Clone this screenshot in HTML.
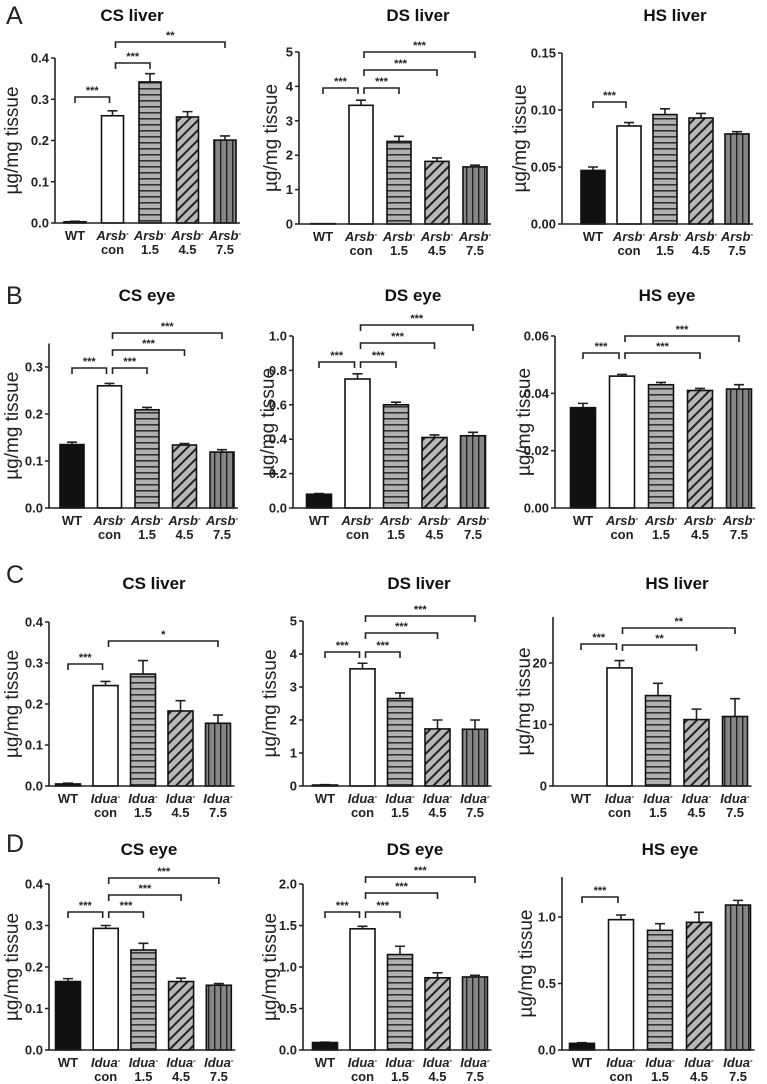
<!DOCTYPE html>
<html><head><meta charset="utf-8">
<style>
html,body{margin:0;padding:0;background:#fff;}
svg{display:block;font-family:"Liberation Sans",Arial,sans-serif;}
</style></head>
<body>
<svg id="fig" width="767" height="1084" viewBox="0 0 767 1084" xmlns="http://www.w3.org/2000/svg">
<defs>
<pattern id="ph" width="6" height="6" patternUnits="userSpaceOnUse"><rect width="6" height="6" fill="#b0b0b0"/><rect y="4" width="6" height="1.6" fill="#333"/></pattern>
<pattern id="pd" width="7" height="7" patternUnits="userSpaceOnUse" patternTransform="rotate(45)"><rect width="7" height="7" fill="#b8b8b8"/><rect x="0" width="2" height="7" fill="#222"/></pattern>
<pattern id="pv" width="6" height="6" patternUnits="userSpaceOnUse"><rect width="6" height="6" fill="#858585"/><rect x="4" width="1.4" height="6" fill="#222"/></pattern>
</defs>
</svg>
<script>
// ---- data ----
const groupsTop = ["WT", "con", "1.5", "4.5", "7.5"];
const valsA_CS = [0.003, 0.260, 0.342, 0.257, 0.201];
const errsA_CS = [0.001, 0.012, 0.020, 0.013, 0.010];
const valsA_DS = [0.01, 3.45, 2.40, 1.82, 1.66];
const errsA_DS = [0.0, 0.15, 0.15, 0.10, 0.05];
const valsA_HS = [0.047, 0.086, 0.096, 0.093, 0.079];
const errsA_HS = [0.003, 0.003, 0.005, 0.004, 0.002];
const valsB_CS = [0.135, 0.260, 0.209, 0.134, 0.119];
const errsB_CS = [0.005, 0.005, 0.005, 0.003, 0.005];
const valsB_DS = [0.08, 0.75, 0.60, 0.41, 0.42];
const errsB_DS = [0.004, 0.03, 0.015, 0.015, 0.02];
const valsB_HS = [0.035, 0.046, 0.043, 0.041, 0.0415];
const errsB_HS = [0.0015, 0.0006, 0.0008, 0.0007, 0.0015];
const valsC_CS = [0.005, 0.245, 0.273, 0.183, 0.153];
const errsC_CS = [0.002, 0.010, 0.033, 0.025, 0.020];
const valsC_DS = [0.03, 3.55, 2.65, 1.73, 1.72];
const errsC_DS = [0.01, 0.17, 0.17, 0.27, 0.28];
const valsC_HS = [0, 19.2, 14.7, 10.8, 11.3];
const errsC_HS = [0, 1.2, 2.0, 1.7, 2.9];
const valsD_CS = [0.165, 0.293, 0.241, 0.165, 0.156];
const errsD_CS = [0.007, 0.007, 0.016, 0.008, 0.004];
const valsD_DS = [0.09, 1.46, 1.15, 0.87, 0.88];
const errsD_DS = [0.005, 0.03, 0.10, 0.06, 0.02];
const valsD_HS = [0.05, 0.98, 0.90, 0.96, 1.09];
const errsD_HS = [0.005, 0.035, 0.05, 0.075, 0.035];
const ticksA_CS = ["0.0","0.1","0.2","0.3","0.4"];
const ticksA_DS = ["0","1","2","3","4","5"];
const ticksA_HS = ["0.00","0.05","0.10","0.15"];
const ticksB_CS = ["0.0","0.1","0.2","0.3"];
const ticksB_DS = ["0.0","0.2","0.4","0.6","0.8","1.0"];
const ticksB_HS = ["0.00","0.02","0.04","0.06"];
const ticksC_CS = ["0.0","0.1","0.2","0.3","0.4"];
const ticksC_DS = ["0","1","2","3","4","5"];
const ticksC_HS = ["0","10","20"];
const ticksD_CS = ["0.0","0.1","0.2","0.3","0.4"];
const ticksD_DS = ["0.0","0.5","1.0","1.5","2.0"];
const ticksD_HS = ["0.0","0.5","1.0"];

// ---- layout ----
const NS = "http://www.w3.org/2000/svg";
const svg = document.getElementById("fig");
const fills = ["#111", "#fff", "url(#ph)", "url(#pd)", "url(#pv)"];
function mk(tag, attrs, parent){const e=document.createElementNS(NS,tag);for(const k in attrs)e.setAttribute(k,attrs[k]);(parent||svg).appendChild(e);return e;}

const panels = [
 {id:"a-cs",title:"CS liver",strain:"Arsb",tx:132,ty:21,ax:55,c0:75,sp:37.5,bw:22,zero:223,ref:0.4,refY:58,max:0.4,ylx:18,vals:valsA_CS,errs:errsA_CS,ticks:ticksA_CS,br:[[0,1,"***",97],[1,2,"***",63],[1,4,"**",42]]},
 {id:"a-ds",title:"DS liver",strain:"Arsb",tx:418,ty:21,ax:299,c0:323,sp:38,bw:24,zero:224,ref:5,refY:52,max:5,ylx:277,vals:valsA_DS,errs:errsA_DS,ticks:ticksA_DS,br:[[0,1,"***",88],[1,2,"***",88],[1,3,"***",70],[1,4,"***",52]]},
 {id:"a-hs",title:"HS liver",strain:"Arsb",tx:675,ty:21,ax:562,c0:593,sp:36,bw:24,zero:224,ref:0.15,refY:53,max:0.15,ylx:526,vals:valsA_HS,errs:errsA_HS,ticks:ticksA_HS,br:[[0,1,"***",102]]},
 {id:"b-cs",title:"CS eye",strain:"Arsb",tx:147,ty:301,ax:49,c0:72,sp:37.5,bw:24,zero:508,ref:0.3,refY:367,max:0.35,ylx:18,vals:valsB_CS,errs:errsB_CS,ticks:ticksB_CS,br:[[0,1,"***",368],[1,2,"***",368],[1,3,"***",350],[1,4,"***",333]]},
 {id:"b-ds",title:"DS eye",strain:"Arsb",tx:413,ty:301,ax:293,c0:319,sp:38.5,bw:25,zero:508,ref:1.0,refY:336,max:1.0,ylx:274,vals:valsB_DS,errs:errsB_DS,ticks:ticksB_DS,br:[[0,1,"***",362],[1,2,"***",362],[1,3,"***",343],[1,4,"***",325]]},
 {id:"b-hs",title:"HS eye",strain:"Arsb",tx:667,ty:301,ax:555,c0:583,sp:39,bw:25,zero:508,ref:0.06,refY:336,max:0.06,ylx:530,vals:valsB_HS,errs:errsB_HS,ticks:ticksB_HS,br:[[0,1,"***",353],[1,3,"***",353],[1,4,"***",336]]},
 {id:"c-cs",title:"CS liver",strain:"Idua",tx:154,ty:589,ax:49,c0:68,sp:37.5,bw:25,zero:786,ref:0.4,refY:622,max:0.4,ylx:18,vals:valsC_CS,errs:errsC_CS,ticks:ticksC_CS,br:[[0,1,"***",664],[1,4,"*",641]]},
 {id:"c-ds",title:"DS liver",strain:"Idua",tx:419,ty:589,ax:303,c0:325,sp:37.5,bw:25,zero:786,ref:5,refY:621,max:5,ylx:276,vals:valsC_DS,errs:errsC_DS,ticks:ticksC_DS,br:[[0,1,"***",652],[1,2,"***",652],[1,3,"***",633],[1,4,"***",616]]},
 {id:"c-hs",title:"HS liver",strain:"Idua",tx:677,ty:589,ax:553,c0:581,sp:38.5,bw:25,zero:786,ref:20,refY:663,max:27.5,ylx:530,vals:valsC_HS,errs:errsC_HS,ticks:ticksC_HS,br:[[0,1,"***",644],[1,3,"**",645],[1,4,"**",628]]},
 {id:"d-cs",title:"CS eye",strain:"Idua",tx:149,ty:855,ax:49,c0:68,sp:37.7,bw:25,zero:1050,ref:0.4,refY:884,max:0.4,ylx:18,vals:valsD_CS,errs:errsD_CS,ticks:ticksD_CS,br:[[0,1,"***",912],[1,2,"***",912],[1,3,"***",895],[1,4,"***",878]]},
 {id:"d-ds",title:"DS eye",strain:"Idua",tx:415,ty:855,ax:303,c0:325,sp:37.5,bw:25,zero:1050,ref:2,refY:884,max:2,ylx:276,vals:valsD_DS,errs:errsD_DS,ticks:ticksD_DS,br:[[0,1,"***",912],[1,2,"***",912],[1,3,"***",893],[1,4,"***",877]]},
 {id:"d-hs",title:"HS eye",strain:"Idua",tx:670,ty:855,ax:562,c0:582,sp:39,bw:25,zero:1050,ref:1.0,refY:917,max:1.3,ylx:532,vals:valsD_HS,errs:errsD_HS,ticks:ticksD_HS,br:[[0,1,"***",897]]}
];

const letters = [["A",6,24],["B",6,304],["C",6,583],["D",6,852]];
letters.forEach(l=>{
  const t=mk("text",{x:l[1],y:l[2],"font-size":25,fill:"#222"});
  
  
  t.textContent=l[0];
});

panels.forEach(p=>{
  const g=mk("g",{});
  
  
  const yS = v => p.zero - v*(p.zero-p.refY)/p.ref;
  const xS = i => p.c0 + i*p.sp;
  const tt=mk("text",{x:p.tx,y:p.ty,"text-anchor":"middle","font-size":17,"font-weight":"bold",fill:"#111"},g);
  
  
  tt.textContent=p.title;
  const midY=(p.zero+yS(p.max))/2;
  const yt=mk("text",{x:0,y:0,transform:`translate(${p.ylx},${midY}) rotate(-90)`,"text-anchor":"middle","font-size":19,fill:"#222"},g);
  
  
  yt.textContent="µg/mg  tissue";
  p.vals.forEach((v,i)=>{
    const x=xS(i)-p.bw/2, y=yS(v), h=Math.max(p.zero-y,0);
    const e=p.errs[i];
    if(e>0){
      const ye=yS(v+e);
      const el=mk("path",{d:`M${xS(i)},${y} V${ye} M${xS(i)-5},${ye} H${xS(i)+5}`,stroke:"#222","stroke-width":1.6,fill:"none"},g);
      
      
    }
    const r=mk("rect",{x:x,y:y,width:p.bw,height:h,fill:fills[i],stroke:"#111","stroke-width":1.6},g);
    
    
  });
  const lastX=xS(4)+p.bw/2+4;
  const ya=mk("path",{d:`M${p.ax},${yS(p.max)} V${p.zero} H${lastX}`,stroke:"#222","stroke-width":1.6,fill:"none"},g);
  
  
  p.ticks.forEach(lbl=>{
    const v=parseFloat(lbl), y=yS(v);
    const tk=mk("line",{x1:p.ax-4,x2:p.ax,y1:y,y2:y,stroke:"#222","stroke-width":1.5},g);
    
    
    const tl=mk("text",{x:p.ax-6,y:y+4.5,"text-anchor":"end","font-size":13,"font-weight":"bold",fill:"#222"},g);
    
    
    tl.textContent=lbl;
  });
  groupsTop.forEach((gname,i)=>{
    const x=xS(i);
    const t1=mk("text",{x:x,y:p.zero+17,"text-anchor":"middle","font-size":13,"font-weight":"bold",fill:"#222"},g);
    
    
    if(i===0){t1.textContent="WT";}
    else{
      const s1=mk("tspan",{"font-style":"italic"},t1); s1.textContent=p.strain;
      const s2=mk("tspan",{dy:-4,"font-size":8},t1); s2.textContent="-";
      const t2=mk("text",{x:x,y:p.zero+31,"text-anchor":"middle","font-size":13,"font-weight":"bold",fill:"#222"},g);
      
      
      t2.textContent=gname;
    }
  });
  p.br.forEach(b=>{
    const x1=xS(b[0])+(b[0]===1?3:0), x2=xS(b[1])-(b[1]===1?3:0), y=b[3];
    const bp=mk("path",{d:`M${x1},${y+6} V${y} H${x2} V${y+6}`,stroke:"#222","stroke-width":1.6,fill:"none"},g);
    
    
    const st=mk("text",{x:(x1+x2)/2,y:y-3,"text-anchor":"middle","font-size":11,"font-weight":"bold",fill:"#222"},g);
    
    
    st.textContent=b[2];
  });
});
</script>
</body></html>
